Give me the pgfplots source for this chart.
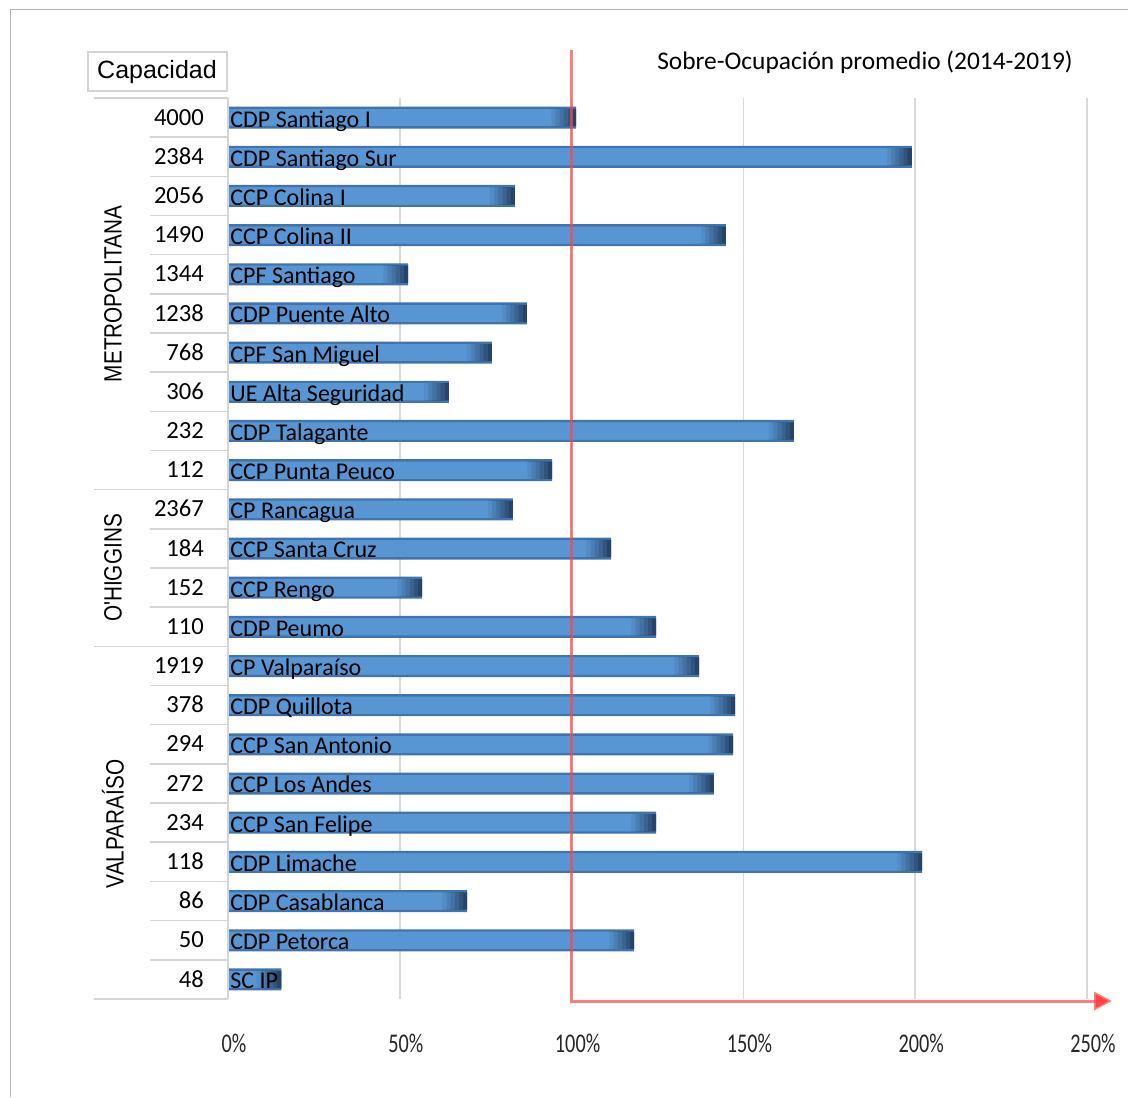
\documentclass[border=0pt]{standalone}
\usepackage{pgfplots}
\pgfplotsset{compat=1.18}
\usepackage{pgfplotstable}
\usepackage{fontspec}
\setmainfont{Carlito}
\newfontfamily\arialfont{Liberation Sans}
\usetikzlibrary{arrows.meta}

\definecolor{barmid}{RGB}{88,150,211}
\definecolor{baredge}{RGB}{66,116,172}
\definecolor{barend}{RGB}{38,68,104}
\definecolor{gridgray}{RGB}{217,217,217}
\definecolor{tblgray}{RGB}{212,212,212}
\definecolor{framegray}{RGB}{180,180,180}
\definecolor{refred}{RGB}{255,70,70}

% average over-occupancy (%) and capacity per prison unit
\pgfplotstableread[col sep=comma]{
row,occ,cap,name
0,101.3,4000,CDP Santiago I
1,199.0,2384,CDP Santiago Sur
2,83.5,2056,CCP Colina I
3,144.9,1490,CCP Colina II
4,52.4,1344,CPF Santiago
5,87.0,1238,CDP Puente Alto
6,76.8,768,CPF San Miguel
7,64.3,306,UE Alta Seguridad
8,164.7,232,CDP Talagante
9,94.3,112,CCP Punta Peuco
10,82.9,2367,CP Rancagua
11,111.5,184,CCP Santa Cruz
12,56.5,152,CCP Rengo
13,124.6,110,CDP Peumo
14,137.1,1919,CP Valparaíso
15,147.6,378,CDP Quillota
16,147.0,294,CCP San Antonio
17,141.4,272,CCP Los Andes
18,124.6,234,CCP San Felipe
19,202.0,118,CDP Limache
20,69.6,86,CDP Casablanca
21,118.2,50,CDP Petorca
22,15.5,48,SC IP
}\occtable

% one overlay step of the bar body: the bar shortened by #2, filled with #1
\pgfplotsset{
  step/.style 2 args={draw=none, fill=#1, bar width=8.6pt, forget plot},
}

\begin{document}
\begin{tikzpicture}
\begin{scope}[x=0.5pt,y=-0.5pt]
  \path[use as bounding box] (0,0) rectangle (1128,1097);
  \draw[framegray, line width=0.5pt] (10,1097) -- (10,10) -- (1128,10);
\end{scope}

\begin{axis}[
  at={(114pt,-499.5pt)}, anchor=south west,
  scale only axis, width=429.5pt, height=450.5pt,
  xmin=0, xmax=250, ymin=-0.5, ymax=22.5,
  y dir=reverse, clip=false,
  axis line style={draw=none}, tick style={draw=none},
  ytick=\empty,
  xtick={0,50,100,150,200,250},
  xmajorgrids,
  major grid style={gridgray, line width=0.75pt},
  xticklabel={\scalebox{0.75}[1]{\pgfmathprintnumber[assume math mode=true]{\tick}\%}},
  xticklabel style={font=\fontsize{13.5}{15}\selectfont, anchor=center, yshift=-22pt, xshift=3pt, text=black!85},
  xbar, bar shift=0pt,
]
% dark rim of every bar
\addplot[draw=none, fill=baredge, bar width=11pt, forget plot] table[x=occ, y=row] {\occtable};
% bar body, lightening step by step away from the right end
\addplot[step={barend}{0}]            table[x=occ, y=row] {\occtable};
\addplot[step={barend!80!barmid}{1}]  table[x expr=\thisrow{occ}-1.2, y=row] {\occtable};
\addplot[step={barend!62!barmid}{2}]  table[x expr=\thisrow{occ}-2.4, y=row] {\occtable};
\addplot[step={barend!45!barmid}{3}]  table[x expr=\thisrow{occ}-3.6, y=row] {\occtable};
\addplot[step={barend!28!barmid}{4}]  table[x expr=\thisrow{occ}-4.8, y=row] {\occtable};
\addplot[step={barend!12!barmid}{5}]  table[x expr=\thisrow{occ}-6.0, y=row] {\occtable};
\addplot[step={barmid}{6}]            table[x expr=\thisrow{occ}-7.2, y=row] {\occtable};

% names inside the bars
\addplot[draw=none, mark=none, nodes near coords, point meta=explicit symbolic,
  every node near coord/.style={anchor=base west, inner sep=0pt, xshift=1pt, yshift=-4.7pt,
    font=\fontsize{12}{14}\selectfont, text=black}]
  table[x expr=0, y=row, meta=name] {\occtable};
% capacity column
\addplot[draw=none, mark=none, nodes near coords, point meta=explicit symbolic,
  every node near coord/.style={anchor=base east, inner sep=0pt, yshift=-3.8pt,
    font=\fontsize{12.3}{14}\selectfont, text=black}]
  table[x expr=-6.9, y=row, meta=cap] {\occtable};
\end{axis}

\begin{scope}[x=0.5pt,y=-0.5pt]
  % capacity table grid
  \foreach \k in {1,...,9,11,12,13,15,16,...,22}
    \draw[tblgray, line width=0.75pt] (150,{98+39.17*\k}) -- (228,{98+39.17*\k});
  \foreach \k in {0,10,14,23}
    \draw[tblgray, line width=0.75pt] (94,{98+39.17*\k}) -- (228,{98+39.17*\k});
  \draw[tblgray, line width=0.75pt] (228,98) -- (228,999);
  % header box
  \draw[tblgray, line width=0.75pt] (88,52) rectangle (227,91);
  \node[font=\arialfont\fontsize{12.5}{14}\selectfont] at (157,72) {Capacidad};
  % regions
  \foreach \yy/\txt in {294/METROPOLITANA, 568/O'HIGGINS, 824/VALPARAÍSO}
    \node[rotate=90, inner sep=0pt, font=\arialfont\fontsize{12.5}{14}\selectfont] at (113,\yy) {\scalebox{0.83}[1]{\txt}};
  % title
  \node[font=\fontsize{12.7}{14}\selectfont] at (865,62) {Sobre-Ocupación promedio (2014-2019)};
  % 100% reference and arrow
  \draw[refred, draw opacity=0.7, line width=1.5pt, line join=miter,
        -{Triangle[length=9pt,width=9pt]}]
    (571,50) -- (571,1001) -- (1112,1001);
\end{scope}
\end{tikzpicture}
\end{document}
